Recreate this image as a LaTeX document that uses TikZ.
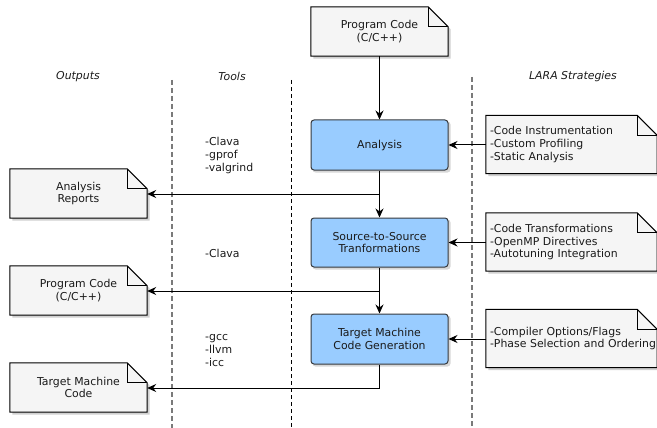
\documentclass[tikz,border=0pt]{standalone}
\usepackage{fontspec}
\setmainfont{DejaVu Sans}
\usetikzlibrary{arrows.meta,backgrounds,calc}
\definecolor{notefill}{HTML}{F5F5F5}
\definecolor{boxfill}{HTML}{99CCFF}
\definecolor{boxline}{HTML}{36393D}
\definecolor{txt}{HTML}{1A1A1A}
\definecolor{shadowc}{HTML}{B0B0B0}
\definecolor{dashgray}{HTML}{7A7A7A}
\tikzset{
  base/.style={font=\fontsize{10.9}{12.6}\selectfont, text=txt, inner sep=0pt},
  notebox/.style={base, minimum width=137pt, minimum height=49pt, align=center},
  larabox/.style={base, minimum width=171pt, minimum height=58pt, align=left, text width=163pt},
  stagebox/.style={base, draw=boxline, fill=boxfill, rounded corners=3pt, line width=1pt,
     minimum width=137pt, minimum height=49pt, align=center},
  conn/.style={line width=1pt, draw=black, -{Stealth[length=9pt,width=8pt,inset=3pt]}},
  plain/.style={line width=1pt, draw=black},
  header/.style={base, font=\fontsize{10.9}{12.6}\selectfont\itshape},
  tooltxt/.style={base, align=left},
  graydash/.style={draw=dashgray, line width=1.1pt, dash pattern=on 5pt off 3pt},
  blackdash/.style={draw=black, line width=1pt, dash pattern=on 4pt off 3pt},
}
\newcommand{\notefold}[1]{%
  \begin{scope}[on background layer]
    \fill[shadowc, opacity=0.6] ([shift={(2.5pt,-2.5pt)}]#1.north west) -- ([shift={(-17.5pt,-2.5pt)}]#1.north east) -- ([shift={(2.5pt,-22.5pt)}]#1.north east) -- ([shift={(2.5pt,-2.5pt)}]#1.south east) -- ([shift={(2.5pt,-2.5pt)}]#1.south west) -- cycle;
    \filldraw[fill=notefill, draw=black, line width=1pt, line join=miter]
      (#1.north west) -- ([xshift=-20pt]#1.north east) -- ([yshift=-20pt]#1.north east) -- (#1.south east) -- (#1.south west) -- cycle;
    \draw[black, line width=1pt] ([xshift=-20pt]#1.north east) -- ([shift={(-20pt,-20pt)}]#1.north east) -- ([yshift=-20pt]#1.north east);
  \end{scope}}
\newcommand{\boxshadow}[1]{%
  \begin{scope}[on background layer]
    \fill[shadowc, opacity=0.5, rounded corners=3pt] ([shift={(2pt,-2pt)}]#1.north west) rectangle ([shift={(2pt,-2pt)}]#1.south east);
  \end{scope}}
\begin{document}
\begin{tikzpicture}[x=1pt,y=-1pt]
\useasboundingbox (0,0) rectangle (657,428);

% headers
\node[header] (hout) at (78,77) {Outputs};
\node[header] (htools) at (232,76) {Tools};
\node[header] (hlara) at (573,76) {LARA Strategies};

% dashed separators
\coordinate (d1t) at (172,80); \coordinate (d1b) at (172,428);
\coordinate (d2t) at (291,80); \coordinate (d2b) at (291,428);
\coordinate (d3t) at (472,77); \coordinate (d3b) at (472,428);
\draw[graydash] (d1t) -- (d1b);
\draw[blackdash] (d2t) -- (d2b);
\draw[graydash] (d3t) -- (d3b);

% input note
\node[notebox] (pc) at (379.5,31.5) {Program Code\\(C/C++)};
\notefold{pc}

% stages
\node[stagebox, minimum height=50pt] (ana) at (379.5,145) {Analysis};
\node[stagebox] (s2s) at (379.5,242.5) {Source-to-Source\\Tranformations};
\node[stagebox, minimum height=50pt] (tmcg) at (379.5,339) {Target Machine\\Code Generation};
\boxshadow{ana}\boxshadow{s2s}\boxshadow{tmcg}

% outputs
\node[notebox] (rep) at (78.5,193.5) {Analysis\\Reports};
\node[notebox] (opc) at (78.5,290.5) {Program Code\\(C/C++)};
\node[notebox] (otmc) at (78.5,387.5) {Target Machine\\Code};
\notefold{rep}\notefold{opc}\notefold{otmc}

% LARA strategies
\node[larabox] (l1) at (571.5,144.5) {-Code Instrumentation\\-Custom Profiling\\-Static Analysis};
\node[larabox] (l2) at (571.5,242) {-Code Transformations\\-OpenMP Directives\\-Autotuning Integration};
\node[larabox] (l3) at (571.5,338.5) {\mbox{-Compiler Options/Flags}\\\mbox{-Phase Selection and Ordering}};
\notefold{l1}\notefold{l2}\notefold{l3}

% tools
\node[tooltxt, anchor=west] (t1) at (205,155.5) {-Clava\\-gprof\\-valgrind};
\node[tooltxt, anchor=west] (t2) at (205,253) {-Clava};
\node[tooltxt, anchor=west] (t3) at (205,350.5) {-gcc\\-llvm\\-icc};

% connectors
\coordinate (j1) at (379.5,194);
\coordinate (j2) at (379.5,291);
\coordinate (j3) at (379.5,388);
\draw[conn] (pc.south) -- (ana.north);
\draw[conn] (ana.south) -- (s2s.north);
\draw[conn] (s2s.south) -- (tmcg.north);
\draw[conn] (j1) -- (rep.east |- j1);
\draw[conn] (j2) -- (opc.east |- j2);
\draw[plain] (tmcg.south) -- (j3);
\draw[conn] (j3) -- (otmc.east |- j3);
\draw[conn] (l1.west |- ana.east) -- (ana.east);
\draw[conn] (l2.west |- s2s.east) -- (s2s.east);
\draw[conn] (l3.west |- tmcg.east) -- (tmcg.east);
\end{tikzpicture}
\end{document}
